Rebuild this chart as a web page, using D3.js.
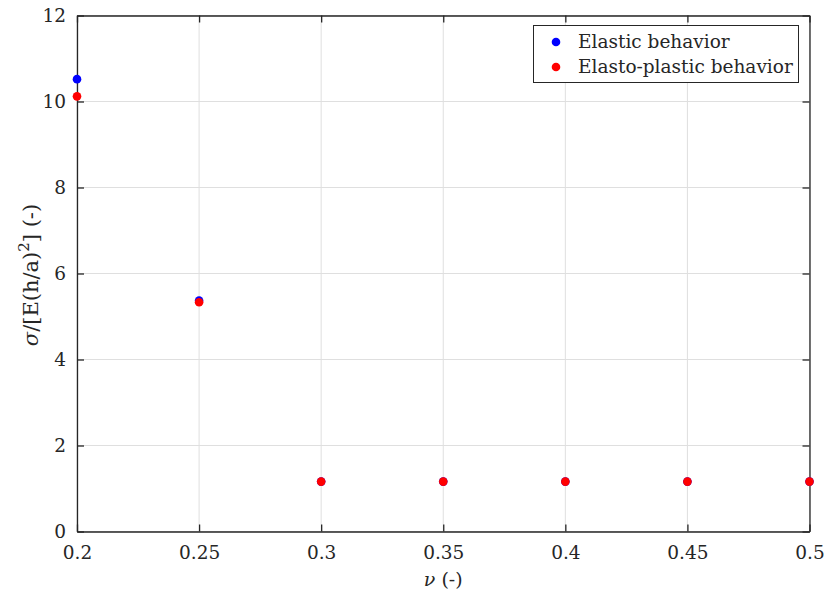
<!DOCTYPE html>
<html>
<head>
<meta charset="utf-8">
<script src="https://cdn.jsdelivr.net/npm/d3@7"></script>
<style>
  body { margin: 0; background: #fff; }
  text { font-family: "DejaVu Serif", serif; fill: #262626; }
</style>
</head>
<body>
<div id="chart"></div>
<script>
// data
const nu = [0.2, 0.25, 0.3, 0.35, 0.4, 0.45, 0.5];
const elastic = [10.52, 5.37, 1.16, 1.16, 1.16, 1.16, 1.16];
const elastoPlastic = [10.12, 5.33, 1.16, 1.16, 1.16, 1.16, 1.16];
const xTicks = [0.2, 0.25, 0.3, 0.35, 0.4, 0.45, 0.5];
const yTicks = [0, 2, 4, 6, 8, 10, 12];

let width = 826, height = 595;
let margin = { left: 77, top: 15.5, right: 826 - 809.5, bottom: 595 - 531.5 };
let w = width - margin.left - margin.right;
let h = height - margin.top - margin.bottom;

let svg = d3.select("#chart").append("svg")
  .attr("width", width).attr("height", height);

let g = svg.append("g").attr("transform", `translate(${margin.left},${margin.top})`);

let x = d3.scaleLinear().domain([0.2, 0.5]).range([0, w]);
let y = d3.scaleLinear().domain([0, 12]).range([h, 0]);

// grid
g.append("g").selectAll("line").data(xTicks).enter().append("line")
  .attr("x1", d => x(d)).attr("x2", d => x(d)).attr("y1", 0).attr("y2", h)
  .attr("stroke", "#dfdfdf").attr("stroke-width", 1);
g.append("g").selectAll("line").data(yTicks).enter().append("line")
  .attr("x1", 0).attr("x2", w).attr("y1", d => y(d)).attr("y2", d => y(d))
  .attr("stroke", "#dfdfdf").attr("stroke-width", 1);

// axes (inward ticks)
let xAxis = g.append("g").attr("transform", `translate(0,${h})`)
  .call(d3.axisBottom(x).tickValues(xTicks).tickSizeInner(-7).tickSizeOuter(0).tickPadding(14)
    .tickFormat(d => String(d)));
let xTop = g.append("g")
  .call(d3.axisTop(x).tickValues(xTicks).tickSizeInner(-7).tickSizeOuter(0).tickFormat(""));
let yAxis = g.append("g")
  .call(d3.axisLeft(y).tickValues(yTicks).tickSizeInner(-7).tickSizeOuter(0).tickPadding(11));
let yRight = g.append("g").attr("transform", `translate(${w},0)`)
  .call(d3.axisRight(y).tickValues(yTicks).tickSizeInner(-7).tickSizeOuter(0).tickFormat(""));

[xAxis, xTop, yAxis, yRight].forEach(a => {
  a.select(".domain").attr("stroke", "#262626").attr("stroke-width", 1.3);
  a.selectAll(".tick line").attr("stroke", "#262626").attr("stroke-width", 1.3);
  a.selectAll("text").style("font-family", "DejaVu Serif, serif").style("font-size", "18.5px").attr("fill", "#262626");
});

// points
g.append("g").selectAll("circle").data(nu.map((d, i) => [d, elastic[i]])).enter()
  .append("circle").attr("cx", d => x(d[0])).attr("cy", d => y(d[1])).attr("r", 4.3)
  .attr("fill", "#0000ff");
g.append("g").selectAll("circle").data(nu.map((d, i) => [d, elastoPlastic[i]])).enter()
  .append("circle").attr("cx", d => x(d[0])).attr("cy", d => y(d[1])).attr("r", 4.3)
  .attr("fill", "#ff0000");

// axis labels
svg.append("text").attr("x", margin.left + w / 2).attr("y", 586)
  .attr("text-anchor", "middle").style("font-size", "19px")
  .html('<tspan font-style="italic">ν</tspan> (-)');

let yl = svg.append("text")
  .attr("transform", `translate(38,275) rotate(-90)`)
  .attr("text-anchor", "middle").style("font-size", "21px");
yl.append("tspan").attr("font-style", "italic").text("σ");
yl.append("tspan").text("/[E(h/a)");
yl.append("tspan").attr("dy", -9).style("font-size", "15px").text("2");
yl.append("tspan").attr("dy", 9).text("] (-)");

// legend
let legendItems = ["Elastic behavior", "Elasto-plastic behavior"];
let legendColors = ["#0000ff", "#ff0000"];
let lg = svg.append("g");
lg.append("rect").attr("x", 533.5).attr("y", 25.5).attr("width", 265).attr("height", 57)
  .attr("fill", "#fff").attr("stroke", "#262626").attr("stroke-width", 1);
legendItems.forEach((t, i) => {
  lg.append("circle").attr("cx", 556).attr("cy", 42 + i * 25).attr("r", 4.3).attr("fill", legendColors[i]);
  lg.append("text").attr("x", 578).attr("y", 42 + i * 25).attr("dy", "0.35em")
    .style("font-size", "18.5px").text(t);
});
</script>
</body>
</html>
